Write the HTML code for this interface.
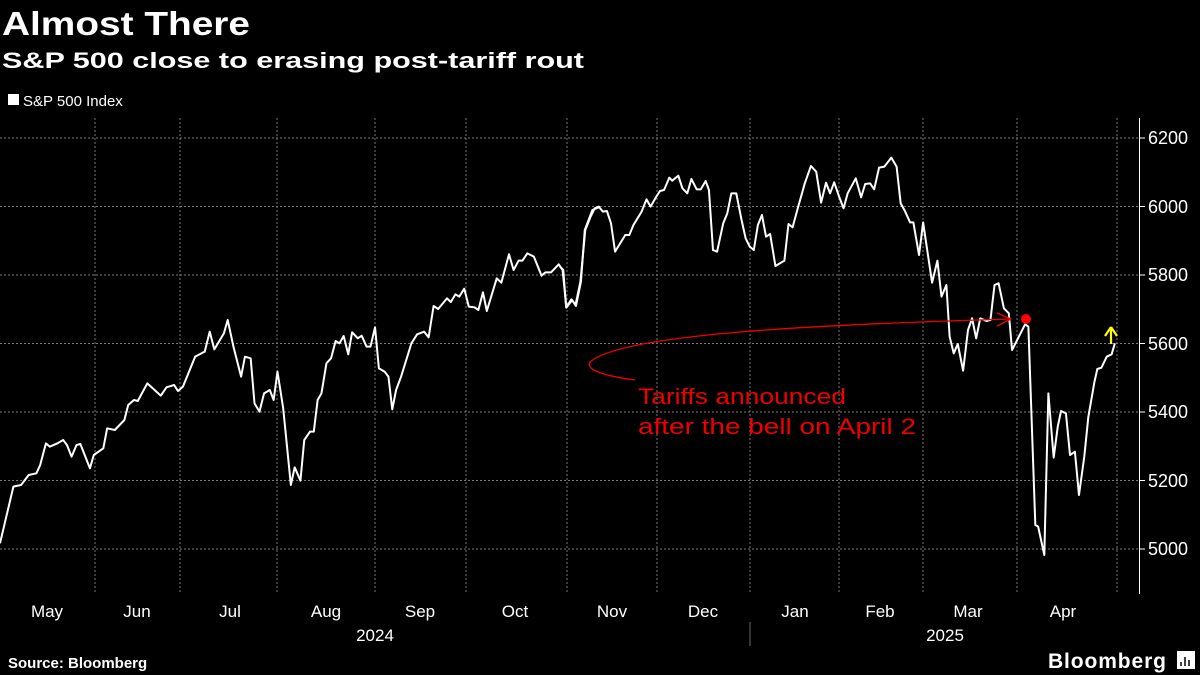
<!DOCTYPE html>
<html><head><meta charset="utf-8"><style>
html,body{margin:0;padding:0;background:#000;}
svg{display:block}
text{font-family:"Liberation Sans",sans-serif;}
</style></head><body>
<svg width="1200" height="675" viewBox="0 0 1200 675" xmlns="http://www.w3.org/2000/svg">
<rect width="1200" height="675" fill="#000"/>
<text x="2" y="35" fill="#fff" font-size="33" font-weight="bold" font-family="DejaVu Sans, sans-serif" textLength="248" lengthAdjust="spacingAndGlyphs">Almost There</text>
<text x="2" y="68" fill="#fff" font-size="22" font-weight="bold" font-family="DejaVu Sans, sans-serif" textLength="582" lengthAdjust="spacingAndGlyphs">S&amp;P 500 close to erasing post-tariff rout</text>
<rect x="8" y="94" width="11" height="11" fill="#fff"/>
<text x="23" y="106" fill="#fff" font-size="15">S&amp;P 500 Index</text>
<g stroke="#777" stroke-width="1" stroke-dasharray="2,2">
<line x1="0" x2="1140" y1="138" y2="138"/><line x1="0" x2="1140" y1="206.5" y2="206.5"/>
<line x1="0" x2="1140" y1="275" y2="275"/><line x1="0" x2="1140" y1="343.5" y2="343.5"/>
<line x1="0" x2="1140" y1="412" y2="412"/><line x1="0" x2="1140" y1="480.5" y2="480.5"/>
<line x1="0" x2="1140" y1="549" y2="549"/>
<line x1="95" x2="95" y1="118" y2="594"/><line x1="180" x2="180" y1="118" y2="594"/>
<line x1="277" x2="277" y1="118" y2="594"/><line x1="375" x2="375" y1="118" y2="594"/>
<line x1="466" x2="466" y1="118" y2="594"/><line x1="567" x2="567" y1="118" y2="594"/>
<line x1="657" x2="657" y1="118" y2="594"/><line x1="750" x2="750" y1="118" y2="594"/>
<line x1="839" x2="839" y1="118" y2="594"/><line x1="923" x2="923" y1="118" y2="594"/>
<line x1="1017" x2="1017" y1="118" y2="594"/><line x1="1117" x2="1117" y1="118" y2="594"/>
</g>
<line x1="1139.5" x2="1139.5" y1="118" y2="594" stroke="#fff" stroke-width="1"/>
<g stroke="#fff"><line x1="1139" x2="1145" y1="138" y2="138"/><line x1="1139" x2="1145" y1="206.5" y2="206.5"/><line x1="1139" x2="1145" y1="275" y2="275"/><line x1="1139" x2="1145" y1="343.5" y2="343.5"/><line x1="1139" x2="1145" y1="412" y2="412"/><line x1="1139" x2="1145" y1="480.5" y2="480.5"/><line x1="1139" x2="1145" y1="549" y2="549"/></g>
<g fill="#fff" font-size="18">
<text x="1148" y="144">6200</text><text x="1148" y="213">6000</text><text x="1148" y="281">5800</text><text x="1148" y="350">5600</text><text x="1148" y="418">5400</text><text x="1148" y="487">5200</text><text x="1148" y="555">5000</text>
</g>
<g fill="#fff" font-size="17" text-anchor="middle">
<text x="47" y="617">May</text><text x="137" y="617">Jun</text><text x="230" y="617">Jul</text><text x="326" y="617">Aug</text><text x="420" y="617">Sep</text><text x="515" y="617">Oct</text><text x="612" y="617">Nov</text><text x="703" y="617">Dec</text><text x="795" y="617">Jan</text><text x="880" y="617">Feb</text><text x="968" y="617">Mar</text><text x="1063" y="617">Apr</text>
<text x="375" y="641">2024</text><text x="945" y="641">2025</text>
</g>
<line x1="750" x2="750" y1="622" y2="646" stroke="#666"/>
<g fill="none" stroke="#fff" stroke-width="2" stroke-linejoin="round">
<polyline vector-effect="non-scaling-stroke" transform="translate(0,110) scale(0.3827,0.33333)" points="0,1300 35,1130 55,1125 75,1095 95,1090 105,1065 120,1000 130,1010 150,1000 165,990 175,1005 187,1040 200,1005 210,1002 235,1075 245,1035 270,1015 280,955 300,960 325,930 335,885 350,870 360,873 385,820 420,857 435,832 455,825 465,843 478,830 510,740 535,725 548,665 560,718 585,670 595,630 610,710 630,800 640,740 655,745 665,880 678,905 690,850 705,840 715,870 725,785 740,895 760,1125 770,1072 785,1112 795,990 810,965 820,965 830,870 840,850 853,760 865,745 877,693 887,700 898,678 910,733 920,667 935,685 945,677 958,710 968,710 980,652 990,775 1005,785 1015,800 1025,898 1035,840 1048,800 1075,700 1090,673 1108,665 1120,682 1133,588 1145,597 1168,565 1178,576 1190,553 1200,560 1213,536 1225,590 1240,592 1250,600 1262,547 1272,603 1298,505 1310,518 1330,433 1342,480 1355,452 1365,452 1378,430 1395,440 1415,497 1425,487 1440,487 1460,463 1470,480 1480,593 1495,570 1505,588 1518,515 1528,360 1548,300 1568,290"/>
<polyline vector-effect="non-scaling-stroke" transform="translate(560,110) scale(0.408,0.33333)" points="0,470 8,480 15,592 28,568 38,585 50,515 62,360 75,320 85,295 95,290 105,305 115,303 125,340 135,425 160,375 170,375 180,345 200,305 212,268 222,290 235,262 245,243 255,240 268,203 275,212 290,197 300,235 312,250 322,207 335,238 345,238 357,213 365,240 375,420 385,425 400,340 410,310 420,250 432,250 445,330 455,385 465,410 475,420 485,345 495,315 505,380 515,372 528,468 550,452 560,342 570,352 585,285 600,220 615,168 628,185 640,278 652,218 662,250 672,217 685,263 695,295 705,250 725,205 738,262 748,222 760,220 770,238 782,173 795,170 812,143 825,170 835,280 845,302 858,337 866,337 880,435 890,337 900,420 912,518 925,452 935,560 947,525 955,680 965,730 975,702 988,782 1000,660 1010,625 1020,685 1030,625 1045,633 1055,630 1065,525 1075,520 1088,595 1100,610 1108,720 1140,643 1148,650 1165,1245 1172,1250 1187,1335 1197,850 1210,1043 1220,950 1228,903 1240,910 1250,1035 1262,1025 1272,1155 1285,1040 1295,920 1310,815 1317,777 1327,773 1340,740 1352,733 1360,700"/>
</g>
<path d="M1011,319 C800,325 620,335 590,362 C585,370 605,376 635,380" fill="none" stroke="#e00" stroke-width="1.3"/>
<path d="M997,313 L1011,319 L997,326" fill="none" stroke="#e00" stroke-width="1.3"/>
<circle cx="1026" cy="319" r="5" fill="#f00"/>
<path d="M1111,327 L1105,336 M1111,327 L1117,336 M1111,328 L1111,344" stroke="#ff0" stroke-width="2.2" fill="none"/>
<text x="638" y="404" fill="#e00" font-size="22" font-family="DejaVu Sans, sans-serif" textLength="208" lengthAdjust="spacingAndGlyphs">Tariffs announced</text>
<text x="638" y="434" fill="#e00" font-size="22" font-family="DejaVu Sans, sans-serif" textLength="278" lengthAdjust="spacingAndGlyphs">after the bell on April 2</text>
<text x="8" y="668" fill="#fff" font-size="15" font-weight="bold">Source: Bloomberg</text>
<text x="1048" y="668" fill="#fff" font-size="21" font-weight="bold" textLength="118">Bloomberg</text>
<rect x="1177" y="651" width="18" height="18" fill="#fff"/>
<g stroke="#000" stroke-width="1.5"><line x1="1181" x2="1181" y1="662" y2="666"/><line x1="1185" x2="1185" y1="657" y2="666"/><line x1="1189" x2="1189" y1="660" y2="666"/></g>
</svg>
</body></html>
